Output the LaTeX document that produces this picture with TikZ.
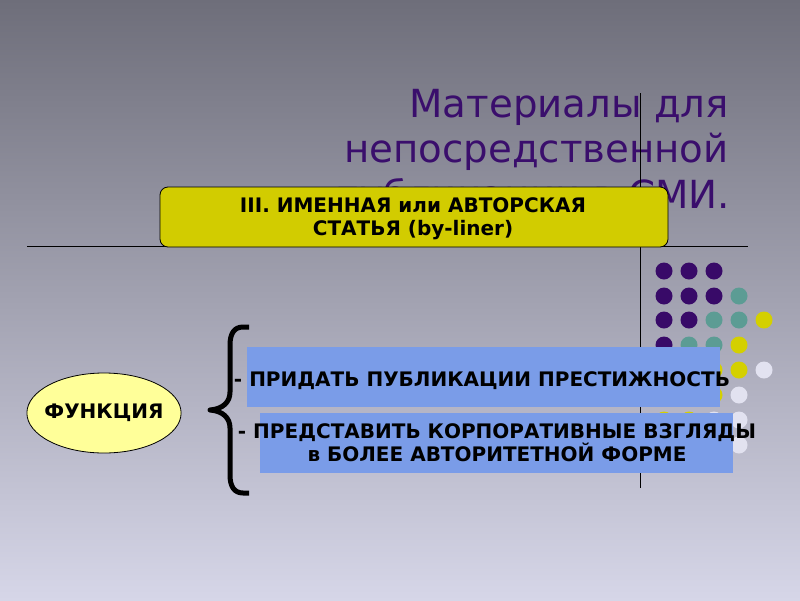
\documentclass[tikz,border=0pt]{standalone}
\usepackage{fontspec}
\setmainfont{DejaVu Sans}
\usetikzlibrary{shapes,positioning}
\definecolor{bgtop}{RGB}{110,110,122}
\definecolor{bgbot}{RGB}{214,214,232}
\definecolor{titlecol}{RGB}{58,14,108}
\definecolor{dotpurple}{RGB}{56,10,104}
\definecolor{dotteal}{RGB}{92,156,148}
\definecolor{dotyellow}{RGB}{212,208,0}
\definecolor{dotwhite}{RGB}{226,226,240}
\definecolor{hdryellow}{RGB}{210,204,0}
\definecolor{ovalyellow}{RGB}{255,255,153}
\definecolor{bandblue}{RGB}{122,156,232}

\begin{document}
\begin{tikzpicture}[x=1pt,y=-1pt,
  ttl/.style={anchor=base east,inner sep=0pt,text=titlecol,font=\fontsize{38.7}{45}\selectfont},
  hdr/.style={draw=black,line width=0.8pt,fill=hdryellow,rounded corners=8pt,minimum width=508pt,minimum height=60pt,inner sep=0pt},
  band/.style={fill=bandblue,minimum width=473pt,minimum height=60pt,inner sep=0pt},
  lbl/.style={align=center,inner sep=0pt,font=\fontsize{20}{23}\bfseries\selectfont},
  oval/.style={ellipse,draw=black,line width=0.8pt,fill=ovalyellow,minimum width=152pt,minimum height=80pt,inner xsep=-5pt,inner ysep=0pt},
  dot/.style={circle,inner sep=0pt,minimum size=17pt}]
  \useasboundingbox (0,0) rectangle (800,600);
  \shade[top color=bgtop,bottom color=bgbot] (0,0) rectangle (800,600);

  % title
  \node[ttl] (ttlA) at (729,117) {Материалы для};
  \node[ttl] (ttlB) at (729,162) {непосредственной};
  \node[ttl] (ttlC) at (730,208) {публикации в СМИ.};

  % rules
  \draw[line width=0.8pt] (640,93) -- (640,488);
  \draw[line width=0.8pt] (27,246) -- (748,246);

  % dots
  \foreach \px/\py/\c in {664/271/dotpurple,689/271/dotpurple,714/271/dotpurple,
      664/296/dotpurple,689/296/dotpurple,714/296/dotpurple,739/296/dotteal,
      664/320/dotpurple,689/320/dotpurple,714/320/dotteal,739/320/dotteal,764/320/dotyellow,
      664/345/dotpurple,689/345/dotteal,714/345/dotteal,739/345/dotyellow,
      664/370/dotteal,689/370/dotteal,714/370/dotyellow,739/370/dotyellow,764/370/dotwhite,
      664/395/dotteal,689/395/dotyellow,714/395/dotyellow,739/395/dotwhite,
      664/420/dotyellow,689/420/dotyellow,714/420/dotwhite,739/420/dotwhite,
      664/445/dotyellow,689/445/dotwhite,714/445/dotwhite,739/445/dotwhite}
    \node[dot,fill=\c] at (\px,\py) {};

  % header
  \node[hdr] (hdr) at (414,217) {};
  \node[lbl] (hdrtxt) at (413,219) {III. ИМЕННАЯ или АВТОРСКАЯ\\СТАТЬЯ (by-liner)};

  % functions
  \node[band] (bandA) at (483.5,377) {};
  \node[band] (bandB) at (496.5,443) {};
  \node[lbl,anchor=base] (fnA) at (482,386) {- ПРИДАТЬ ПУБЛИКАЦИИ ПРЕСТИЖНОСТЬ};
  \node[lbl,font=\fontsize{20}{21}\bfseries\selectfont] (fnB) at (497,443) {- ПРЕДСТАВИТЬ КОРПОРАТИВНЫЕ ВЗГЛЯДЫ\\в БОЛЕЕ АВТОРИТЕТНОЙ ФОРМЕ};

  \node[oval,font=\fontsize{20}{23}\bfseries\selectfont] (func) at (104,413) {ФУНКЦИЯ};

  % brace
  \draw[line width=5pt,line join=round] (249,327) -- (243,327) .. controls (234,327) and (230,334) .. (230,345) -- (230,392)
    .. controls (230,402) and (223,409) .. (210,410) .. controls (223,411) and (230,418) .. (230,428)
    -- (230,475) .. controls (230,486) and (234,493) .. (243,493) -- (249,493);
\end{tikzpicture}
\end{document}
